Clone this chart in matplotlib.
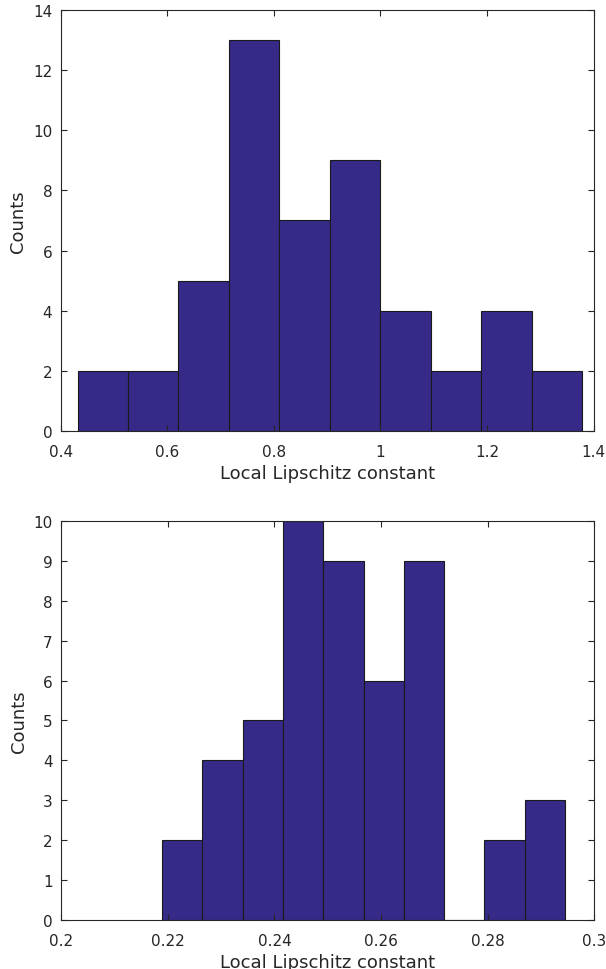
import numpy as np
import matplotlib
matplotlib.use("Agg")
import matplotlib.pyplot as plt

# histogram counts for the two runs
counts_a = [2, 2, 5, 13, 7, 9, 4, 2, 4, 2]
counts_b = [2, 4, 5, 10, 9, 6, 9, 0, 2, 3]

# bin ranges (10 equal-width bins each)
range_a = (0.4319, 1.3782)
range_b = (0.21890, 0.29455)

bar_color = "#352a87"
ink = "#262626"

plt.rcParams["font.family"] = "DejaVu Sans"

fig = plt.figure(figsize=(6.06, 9.70), dpi=100)
ax1 = fig.add_axes([0.100, 0.5546, 0.8795, 0.4341])
ax2 = fig.add_axes([0.101, 0.0505, 0.8795, 0.4114])


def draw_hist(ax, counts, rng, xlim, xticks, xticklabels, ylim, yticks):
    edges = np.linspace(rng[0], rng[1], len(counts) + 1)
    ax.bar(edges[:-1], counts, width=np.diff(edges), align="edge",
           color=bar_color, edgecolor="#1a1a1a", linewidth=0.8)
    ax.set_xlim(*xlim)
    ax.set_ylim(*ylim)
    ax.set_xticks(xticks)
    ax.set_xticklabels(xticklabels)
    ax.set_yticks(yticks)
    ax.tick_params(direction="in", top=True, right=True, length=4,
                   width=0.8, colors=ink, labelsize=11)
    ax.tick_params(axis="x", pad=9)
    ax.tick_params(axis="y", pad=6)
    for s in ax.spines.values():
        s.set_color(ink)
        s.set_linewidth(0.8)
    ax.set_xlabel("Local Lipschitz constant", fontsize=13, color=ink, labelpad=4)
    ax.set_ylabel("Counts", fontsize=13, color=ink, labelpad=4)


draw_hist(ax1, counts_a, range_a, (0.4, 1.4),
          [0.4, 0.6, 0.8, 1.0, 1.2, 1.4],
          ["0.4", "0.6", "0.8", "1", "1.2", "1.4"],
          (0, 14), range(0, 15, 2))

draw_hist(ax2, counts_b, range_b, (0.2, 0.3),
          [0.2, 0.22, 0.24, 0.26, 0.28, 0.3],
          ["0.2", "0.22", "0.24", "0.26", "0.28", "0.3"],
          (0, 10), range(0, 11))

fig.savefig("out.png", dpi=100, facecolor="white")
